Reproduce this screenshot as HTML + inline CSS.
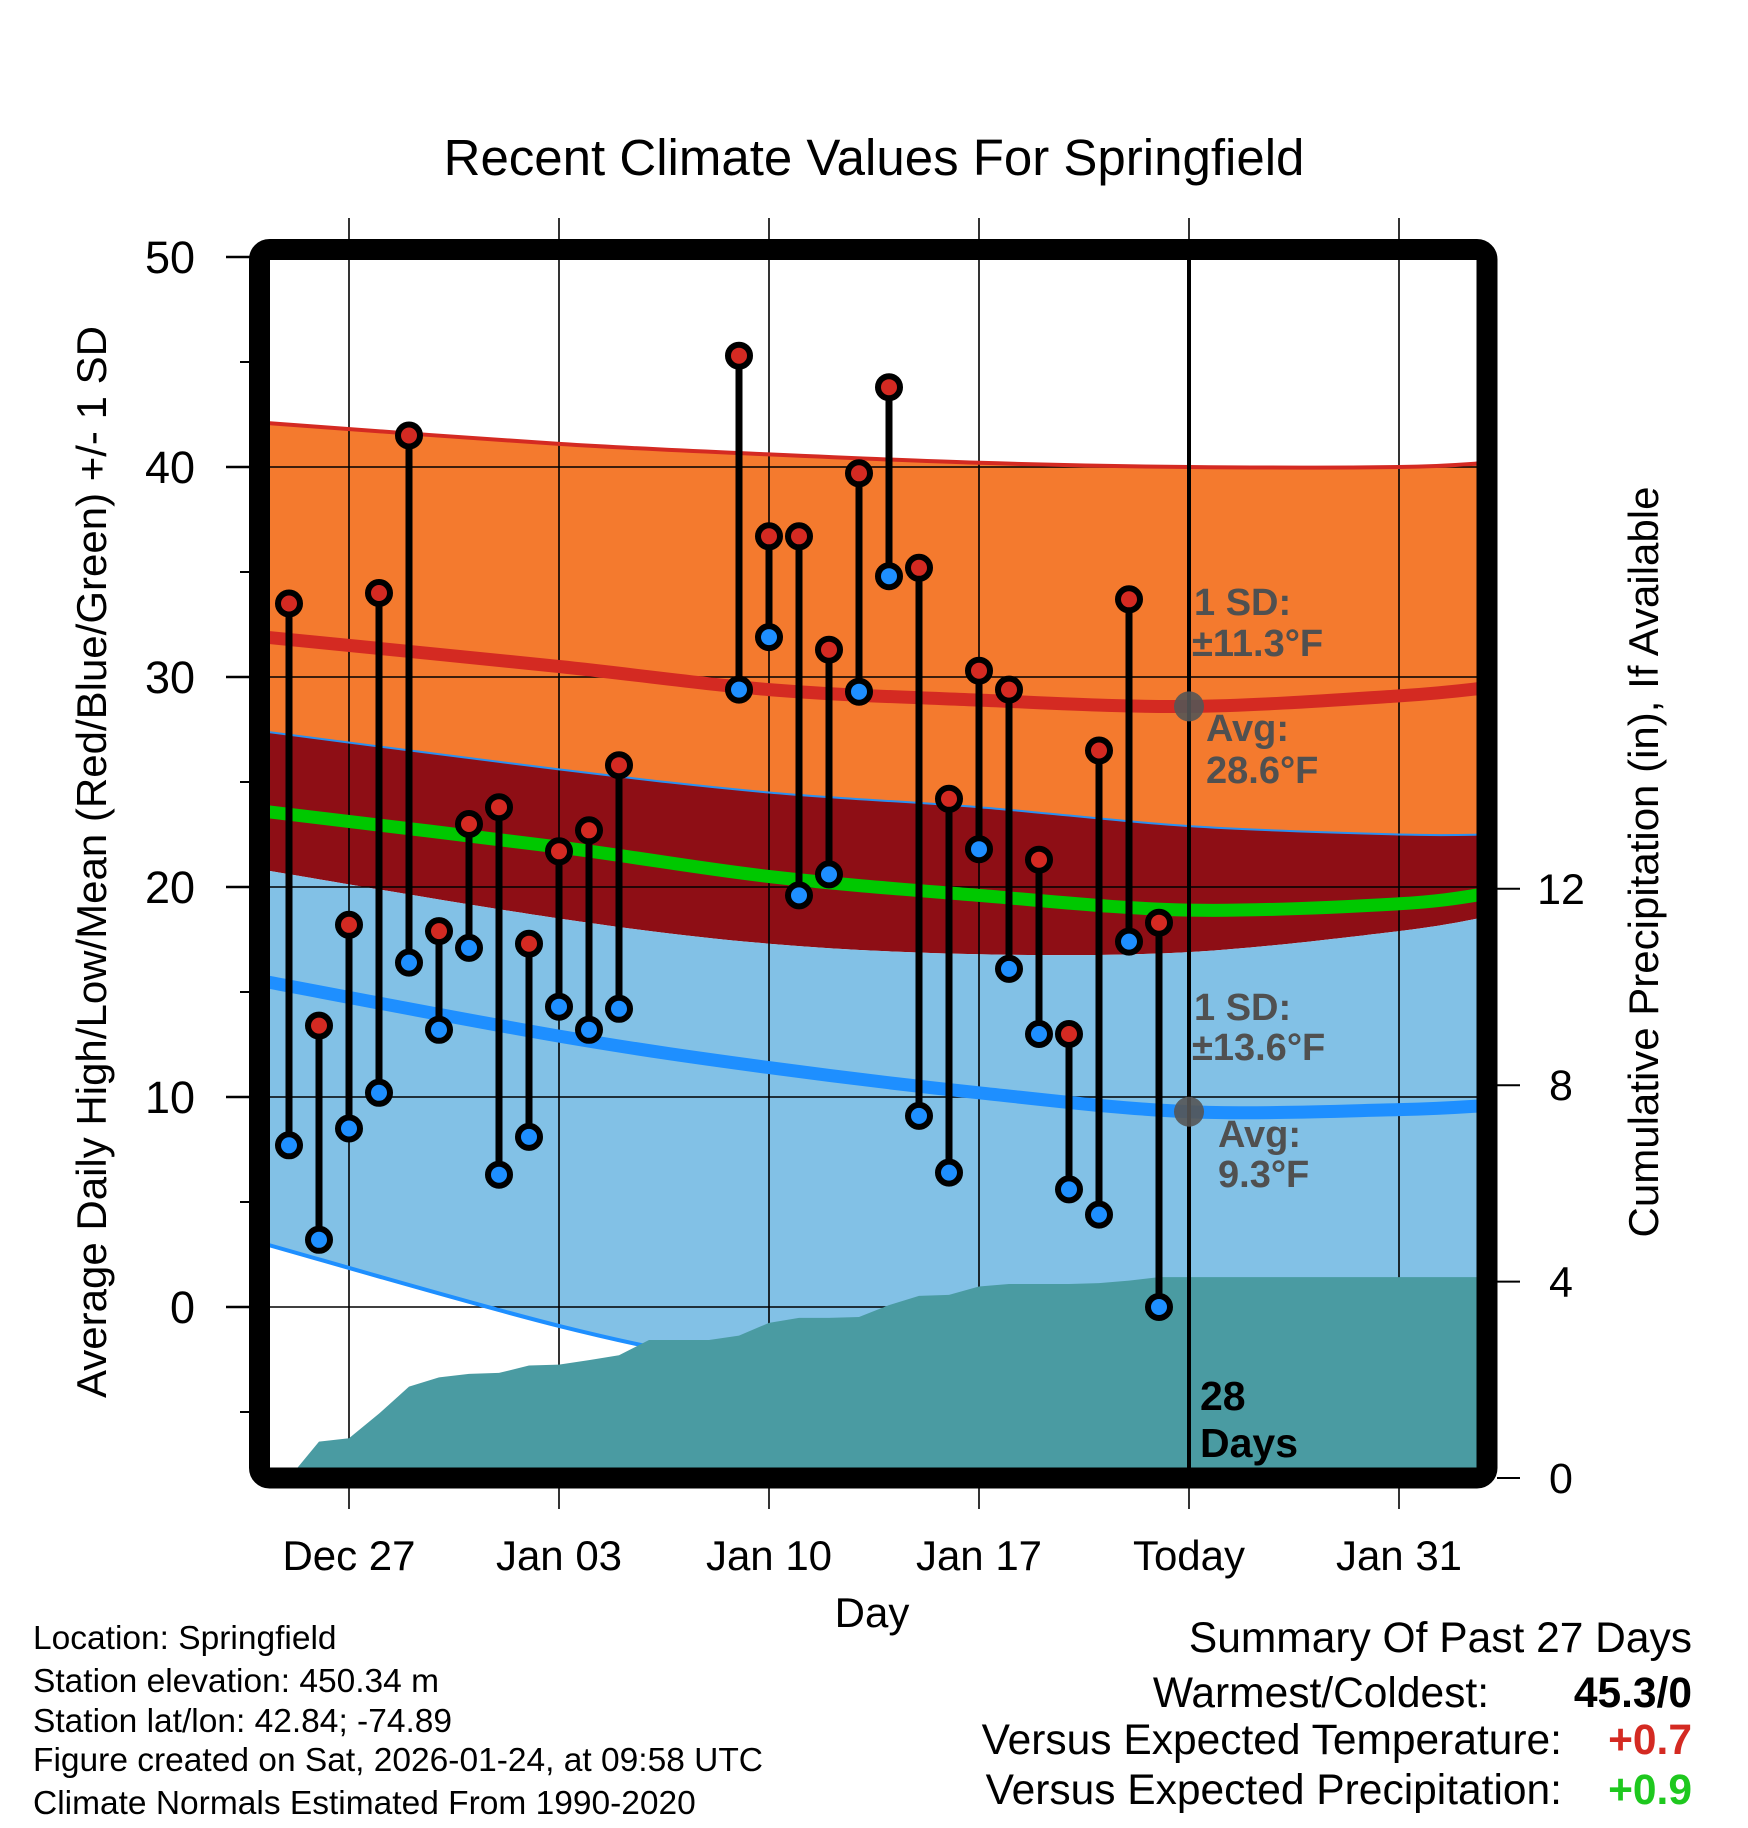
<!DOCTYPE html>
<html><head><meta charset="utf-8"><style>
html,body{margin:0;padding:0;background:#fff;}
svg{display:block;font-family:"Liberation Sans",Arial,sans-serif;}
</style></head><body>
<svg id="chart" width="1748" height="1828" viewBox="0 0 1748 1828" xmlns="http://www.w3.org/2000/svg">
<defs><clipPath id="plotclip"><rect x="270" y="260" width="1207" height="1208"/></clipPath></defs>
<g id="bands" clip-path="url(#plotclip)"></g>
<g id="grid"></g>
<g id="curves" clip-path="url(#plotclip)"></g>
<g id="precip" clip-path="url(#plotclip)"></g>
<g id="stems"></g>
<g id="today"></g>
<rect x="259.5" y="249.5" width="1227.5" height="1228.5" rx="10" fill="none" stroke="#000" stroke-width="21"/>
<g id="axes"></g>
<text x="874" y="175" text-anchor="middle" font-size="51">Recent Climate Values For Springfield</text>
<text transform="translate(106,862) rotate(-90)" text-anchor="middle" font-size="42">Average Daily High/Low/Mean (Red/Blue/Green) +/- 1 SD</text>
<text transform="translate(1658,862) rotate(-90)" text-anchor="middle" font-size="42">Cumulative Precipitation (in), If Available</text>
<text x="872" y="1627" text-anchor="middle" font-size="42">Day</text>
<g font-weight="bold" font-size="38" fill="#505050">
<text x="1194" y="615">1 SD:</text>
<text x="1192" y="656">±11.3°F</text>
<text x="1206" y="741">Avg:</text>
<text x="1206" y="783">28.6°F</text>
<text x="1194" y="1020">1 SD:</text>
<text x="1192" y="1060">±13.6°F</text>
<text x="1218" y="1147">Avg:</text>
<text x="1218" y="1187">9.3°F</text>
</g>
<g font-weight="bold" font-size="41" fill="#000">
<text x="1200" y="1410">28</text><text x="1200" y="1457">Days</text>
</g>
<g font-size="33.5" fill="#000">
<text x="33" y="1649">Location: Springfield</text>
<text x="33" y="1692">Station elevation: 450.34 m</text>
<text x="33" y="1732">Station lat/lon: 42.84; -74.89</text>
<text x="33" y="1771">Figure created on Sat, 2026-01-24, at 09:58 UTC</text>
<text x="33" y="1814">Climate Normals Estimated From 1990-2020</text>
</g>
<g font-size="42.5">
<text x="1692" y="1652" text-anchor="end">Summary Of Past 27 Days</text>
<text x="1489" y="1707" text-anchor="end">Warmest/Coldest:</text>
<text x="1692" y="1707" text-anchor="end" font-weight="bold">45.3/0</text>
<text x="1562" y="1754" text-anchor="end">Versus Expected Temperature:</text>
<text x="1692" y="1754" text-anchor="end" font-weight="bold" fill="#d42a22">+0.7</text>
<text x="1562" y="1804" text-anchor="end">Versus Expected Precipitation:</text>
<text x="1692" y="1804" text-anchor="end" font-weight="bold" fill="#1ec81e">+0.9</text>
</g>
</svg>
<script>
// days are counted from Dec 27 (day 0)
const days = [-2,-1,0,1,2,3,4,5,6,7,8,9,13,14,15,16,17,18,19,20,21,22,23,24,25,26,27];
const highs = [33.5,13.4,18.2,34.0,41.5,17.9,23.0,23.8,17.3,21.7,22.7,25.8,45.3,36.7,36.7,31.3,39.7,43.8,35.2,24.2,30.3,29.4,21.3,13.0,26.5,33.7,18.3];
const lows = [7.7,3.2,8.5,10.2,16.4,13.2,17.1,6.3,8.1,14.3,13.2,14.2,29.4,31.9,19.6,20.6,29.3,34.8,9.1,6.4,21.8,16.1,13.0,5.6,4.4,17.4,0.0];
const precipDays = [-2,-1,0,1,2,3,4,5,6,7,8,9,10,11,12,13,14,15,16,17,18,19,20,21,22,23,24,25,26,27,38];
const precipCum = [0,0.74,0.81,1.31,1.86,2.05,2.12,2.14,2.29,2.31,2.40,2.50,2.81,2.81,2.81,2.90,3.16,3.26,3.26,3.28,3.52,3.71,3.73,3.90,3.95,3.95,3.95,3.97,4.02,4.09,4.09];
const normDays = [-2.8,7,14,21,28,35,38];
const highUpper = [42.1,41.1,40.6,40.2,40.0,40.0,40.2];
const highMean = [31.9,30.5,29.4,28.9,28.6,29.1,29.5];
const highLower = [27.4,25.6,24.5,23.8,22.9,22.5,22.5];
const meanMean = [23.6,21.9,20.5,19.6,18.9,19.2,19.7];
const lowUpper = [20.8,18.5,17.3,16.8,16.9,17.9,18.6];
const lowMean = [15.5,12.9,11.4,10.2,9.3,9.4,9.6];
const lowLower = [3.0,-0.9,-3.0,-4.6,-6.0,-7.0,-7.4];
const xTickDays = [0,7,14,21,28,35];
const xTickLabels = ["Dec 27","Jan 03","Jan 10","Jan 17","Today","Jan 31"];
const yTicks = [0,10,20,30,40,50];
const pTicks = [0,4,8,12];
const todayDay = 28;

const NS="http://www.w3.org/2000/svg";
const X=d=>349+30*d, Y=v=>257+(50-v)*21, P=i=>1478-49.1*i;
function mk(parent,tag,attrs){const e=document.createElementNS(NS,tag);for(const k in attrs)e.setAttribute(k,attrs[k]);document.getElementById(parent).appendChild(e);return e;}
function pts(ds,vs){return ds.map((d,i)=>[X(d),Y(vs[i])]);}
function smooth(p){let s=`M${p[0][0]},${p[0][1]}`;for(let i=0;i<p.length-1;i++){const p0=p[i-1]||p[i],p1=p[i],p2=p[i+1],p3=p[i+2]||p2;
 const c1=[p1[0]+(p2[0]-p0[0])/6,p1[1]+(p2[1]-p0[1])/6],c2=[p2[0]-(p3[0]-p1[0])/6,p2[1]-(p3[1]-p1[1])/6];
 s+=` C${c1[0]},${c1[1]} ${c2[0]},${c2[1]} ${p2[0]},${p2[1]}`;}return s;}
function smoothRev(p){const r=p.slice().reverse();return smooth(r).replace(/^M/,'L');}
function band(up,lo,fill,name){const a=pts(normDays,up),b=pts(normDays,lo);
 const e=mk('bands','path',{d:smooth(a)+' '+smoothRev(b)+' Z',fill:fill});
 
 }
band(highUpper,highLower,'#f47a2e','high-sd-band');
band(highLower,lowUpper,'#8e0e15','overlap-band');
band(lowUpper,lowLower,'#82c1e6','low-sd-band');

xTickDays.forEach(d=>{const l=mk('grid','line',{x1:X(d),x2:X(d),y1:218,y2:1509,stroke:'#000','stroke-width':1.6});
 
 });
yTicks.forEach(v=>{if(v<50){const l=mk('grid','line',{x1:270,x2:1477,y1:Y(v),y2:Y(v),stroke:'#000','stroke-width':1.6});
 
 }});

function curve(vals,color,w,name){const e=mk('curves','path',{d:smooth(pts(normDays,vals)),fill:'none',stroke:color,'stroke-width':w});
 
 }
curve(highUpper,'#d42a22',4,'high-upper-sd-line');
curve(highLower,'#2a90f0',2,'high-lower-sd-line');
curve(lowLower,'#1e8fff',4,'low-lower-sd-line');
curve(highMean,'#d42a22',13,'high-mean-line');
curve(meanMean,'#00c800',13,'mean-mean-line');
curve(lowMean,'#1e8fff',13,'low-mean-line');

{let d=`M${X(precipDays[0])},1490`;precipDays.forEach((pd,i)=>{d+=` L${X(pd)},${P(precipCum[i])}`;});d+=` L${X(precipDays[precipDays.length-1])},1490 Z`;
 const e=mk('precip','path',{d:d,fill:'#4a9ba2'});
 
 }

days.forEach((d,i)=>{const s=mk('stems','line',{x1:X(d),x2:X(d),y1:Y(highs[i]),y2:Y(lows[i]),stroke:'#000','stroke-width':7});
 
 });
days.forEach((d,i)=>{
 const h=mk('stems','circle',{cx:X(d),cy:Y(highs[i]),r:11,fill:'#d42a22',stroke:'#000','stroke-width':6});
 
 
 const l=mk('stems','circle',{cx:X(d),cy:Y(lows[i]),r:11,fill:'#1e8fff',stroke:'#000','stroke-width':6});
 
 });

{const l=mk('today','line',{x1:X(todayDay),x2:X(todayDay),y1:255,y2:1478,stroke:'#000','stroke-width':4});
 
 
 const c1=mk('today','circle',{cx:X(todayDay),cy:Y(highMean[4]),r:15,fill:'#555','fill-opacity':0.9});
 
 
 const c2=mk('today','circle',{cx:X(todayDay),cy:Y(lowMean[4]),r:15,fill:'#555','fill-opacity':0.9});
 
 }

yTicks.forEach(v=>{const t=mk('axes','line',{x1:226,x2:250,y1:Y(v),y2:Y(v),stroke:'#000','stroke-width':2.5});
 
 
 const tx=mk('axes','text',{x:195,y:Y(v)+16,'text-anchor':'end','font-size':45});tx.textContent=v;
 
 
 if(v<50&&Y(v+5)>=250){const m=mk('axes','line',{x1:240,x2:250,y1:Y(v+5),y2:Y(v+5),stroke:'#000','stroke-width':2});
  
  }});
{const m=mk('axes','line',{x1:240,x2:250,y1:Y(-5),y2:Y(-5),stroke:'#000','stroke-width':2});
 
 }
pTicks.forEach(v=>{const t=mk('axes','line',{x1:1497,x2:1520,y1:P(v),y2:P(v),stroke:'#000','stroke-width':2});
 
 
 const tx=mk('axes','text',{x:1561,y:P(v)+15,'text-anchor':'middle','font-size':43});tx.textContent=v;
 
 });
xTickDays.forEach((d,i)=>{const tx=mk('axes','text',{x:X(d),y:1570,'text-anchor':'middle','font-size':42});tx.textContent=xTickLabels[i];
 
 });
</script>
</body></html>
